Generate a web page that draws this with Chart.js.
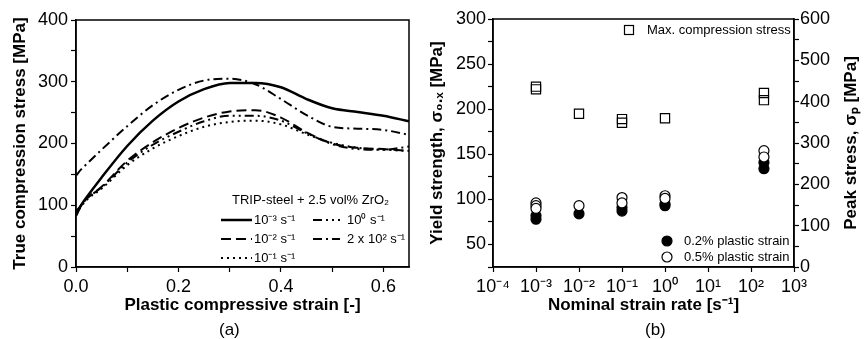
<!DOCTYPE html>
<html>
<head>
<meta charset="utf-8">
<script src="https://cdn.jsdelivr.net/npm/chart.js@4.4.0/dist/chart.umd.min.js"></script>
<style>
  html, body { margin: 0; padding: 0; background: #fff; }
  body { width: 864px; height: 339px; position: relative; overflow: hidden;
         font-family: 'Liberation Sans', Arial, sans-serif; }
  #chartA { position: absolute; left: 0; top: 0; }
  #chartB { position: absolute; left: 420px; top: 0; }
  .cap { position: absolute; top: 320px; font-size: 17px; line-height: 20px; }
</style>
</head>
<body>
<canvas id="chartA" width="430" height="339"></canvas>
<canvas id="chartB" width="444" height="339"></canvas>
<div class="cap" style="left:219px">(a)</div>
<div class="cap" style="left:645px">(b)</div>
<script>
// (a) true stress vs plastic strain, one curve per strain rate
const strain    = [0, 0.01, 0.02, 0.05, 0.1, 0.15, 0.2, 0.25, 0.3, 0.35, 0.4, 0.45, 0.5, 0.55, 0.6, 0.65];
const stress1e3 = [83, 100, 112, 145, 196, 237, 268, 288, 298, 298, 291, 272, 257, 251, 245, 236];
const stress1e2 = [88, 100, 110, 130, 172, 202, 225, 242, 252, 254, 242, 218, 200, 193, 191, 188];
const stress1e1 = [85, 98, 108, 127, 165, 192, 212, 227, 235, 237, 231, 215, 201, 193, 190, 188];
const stress1e0 = [90, 100, 110, 129, 169, 198, 219, 236, 245, 245, 237, 217, 199, 191, 190, 195];
const stress2e2 = [148, 158, 166, 190, 228, 262, 287, 302, 305, 296, 272, 246, 227, 224, 222, 214];
const rateLabels = ['10⁻³ s⁻¹', '10⁻² s⁻¹', '10⁻¹ s⁻¹', '10⁰ s⁻¹', '2 x 10² s⁻¹'];

const strainTicks = [0, 0.1, 0.2, 0.3, 0.4, 0.5, 0.6];
const strainTickLabels = ['0.0', '', '0.2', '', '0.4', '', '0.6'];
const stressTicks = [0, 50, 100, 150, 200, 250, 300, 350, 400];
const stressTickLabels = ['0', '', '100', '', '200', '', '300', '', '400'];

// (b) yield strength / peak stress vs nominal strain rate
const maxRate   = [1e-3, 1e-3, 1e-2, 1e-1, 1e-1, 1, 200, 200];
const maxStress = [225, 222, 195, 189, 185, 190, 218, 210];
const y02Rate   = [1e-3, 1e-3, 1e-2, 1e-1, 1e-1, 1, 1, 200, 200];
const y02Stress = [78, 82, 84, 87, 91, 93, 95, 134, 141];
const y05Rate   = [1e-3, 1e-3, 1e-3, 1e-2, 1e-1, 1e-1, 1, 1, 200, 200];
const y05Stress = [96, 93, 90, 93, 102, 96, 104, 101, 154, 147];

const rateTicks = [1e-4, 1e-3, 1e-2, 1e-1, 1, 10, 100, 1000];
const rateTickLabels = ['10⁻⁴', '10⁻³', '10⁻²', '10⁻¹', '10⁰', '10¹', '10²', '10³'];
const yieldTicks = [25, 50, 75, 100, 125, 150, 175, 200, 225, 250, 275, 300];
const yieldTickLabels = ['', '50', '', '100', '', '150', '', '200', '', '250', '', '300'];
const peakTicks = [0, 50, 100, 150, 200, 250, 300, 350, 400, 450, 500, 550, 600];
const peakTickLabels = ['0', '', '100', '', '200', '', '300', '', '400', '', '500', '', '600'];

const FONT = "'Liberation Sans', Arial, sans-serif";
Chart.defaults.font.family = FONT;
Chart.defaults.color = '#000';

const tickFont = { size: 18 };
const titleFont = { size: 17, weight: 'bold' };
const gridOpts = { drawOnChartArea: false, color: '#000', tickLength: 5, tickWidth: 1.2 };
const borderOpts = { color: '#000', width: 1.5 };

const frame = {
  id: 'frame',
  afterDraw(chart) {
    const a = chart.chartArea, ctx = chart.ctx;
    ctx.save();
    ctx.strokeStyle = '#000';
    ctx.lineWidth = 1.5;
    ctx.strokeRect(a.left, a.top, a.right - a.left, a.bottom - a.top);
    ctx.restore();
  }
};

function pts(xs, ys) {
  return xs.map((x, i) => ({ x: x, y: ys[i] }));
}

// ---------- panel (a) ----------
const legendA = {
  id: 'legendA',
  afterDraw(chart) {
    const ctx = chart.ctx;
    ctx.save();
    ctx.font = '13px ' + FONT;
    ctx.fillStyle = '#000';
    ctx.strokeStyle = '#000';
    ctx.textBaseline = 'middle';
    ctx.fillText('TRIP-steel + 2.5 vol% ZrO₂', 232, 200);
    const slots = [[221, 252, 220, 254], [221, 252, 239, 254], [221, 252, 258, 254],
                   [313, 340, 220, 347], [313, 340, 239, 347]];
    chart.data.datasets.forEach((ds, i) => {
      const s = slots[i];
      ctx.beginPath();
      ctx.setLineDash(ds.borderDash || []);
      ctx.lineWidth = ds.borderWidth;
      ctx.moveTo(s[0], s[2]);
      ctx.lineTo(s[1], s[2]);
      ctx.stroke();
      ctx.setLineDash([]);
      ctx.fillText(ds.label, s[3], s[2]);
    });
    ctx.restore();
  }
};

function curve(label, ys, dash, width) {
  return {
    label: label,
    data: pts(strain, ys),
    borderColor: '#000',
    borderWidth: width,
    borderDash: dash,
    pointRadius: 0,
    fill: false,
    cubicInterpolationMode: 'monotone'
  };
}

new Chart(document.getElementById('chartA'), {
  type: 'line',
  data: {
    datasets: [
      curve(rateLabels[0], stress1e3, [], 2.5),
      curve(rateLabels[1], stress1e2, [10, 5], 2),
      curve(rateLabels[2], stress1e1, [2, 4], 2),
      curve(rateLabels[3], stress1e0, [9, 4, 2, 4, 2, 4], 2),
      curve(rateLabels[4], stress2e2, [9, 4, 2, 4], 2)
    ]
  },
  options: {
    responsive: false,
    animation: false,
    layout: { padding: { top: 20, right: 21, left: 0, bottom: 0 } },
    plugins: { legend: { display: false }, tooltip: { enabled: false } },
    scales: {
      x: {
        type: 'linear', min: 0, max: 0.65,
        afterBuildTicks: s => { s.ticks = strainTicks.map(v => ({ value: v })); },
        afterFit: s => { s.height = 72; },
        ticks: { font: tickFont, padding: 4, maxRotation: 0, autoSkip: false,
                 callback: (v, i) => strainTickLabels[i] },
        grid: gridOpts, border: borderOpts,
        title: { display: true, text: 'Plastic compressive strain [-]', font: titleFont,
                 padding: { top: 0, bottom: 23 } }
      },
      y: {
        min: 0, max: 400,
        afterBuildTicks: s => { s.ticks = stressTicks.map(v => ({ value: v })); },
        afterFit: s => { s.width = 76; },
        ticks: { font: tickFont, padding: 3, autoSkip: false,
                 callback: (v, i) => stressTickLabels[i] },
        grid: gridOpts, border: borderOpts,
        title: { display: true, text: 'True compression stress [MPa]', font: titleFont,
                 padding: { top: 10, bottom: 0 } }
      }
    }
  },
  plugins: [frame, legendA]
});

// ---------- panel (b) ----------
const legendB = {
  id: 'legendB',
  afterDraw(chart) {
    const ctx = chart.ctx;
    const ox = 420;
    const a = chart.chartArea;
    ctx.save();
    ctx.font = '13px ' + FONT;
    ctx.fillStyle = '#000';
    ctx.strokeStyle = '#000';
    ctx.lineWidth = 1.2;
    ctx.textBaseline = 'middle';
    ctx.strokeRect(629 - ox - 4.5, 30 - 4.5, 9, 9);
    ctx.fillText('Max. compression stress', 647 - ox, 30);
    ctx.beginPath();
    ctx.arc(667 - ox, 241, 5, 0, Math.PI * 2);
    ctx.fill();
    ctx.stroke();
    ctx.fillText('0.2% plastic strain', 684 - ox, 241);
    ctx.beginPath();
    ctx.arc(667 - ox, 257, 5, 0, Math.PI * 2);
    ctx.fillStyle = '#fff';
    ctx.fill();
    ctx.stroke();
    ctx.fillStyle = '#000';
    ctx.fillText('0.5% plastic strain', 684 - ox, 257);
    // right axis title reads bottom-to-top like the left one
    ctx.translate(851 - ox, (a.top + a.bottom) / 2);
    ctx.rotate(-Math.PI / 2);
    ctx.font = 'bold 17px ' + FONT;
    ctx.textAlign = 'center';
    ctx.fillText('Peak stress, σₚ [MPa]', 0, 0);
    ctx.restore();
  }
};

new Chart(document.getElementById('chartB'), {
  type: 'scatter',
  data: {
    datasets: [
      { label: '0.5% plastic strain', data: pts(y05Rate, y05Stress), pointStyle: 'circle',
        pointRadius: 5, backgroundColor: '#fff', borderColor: '#000', borderWidth: 1.2 },
      { label: '0.2% plastic strain', data: pts(y02Rate, y02Stress), pointStyle: 'circle',
        pointRadius: 5, backgroundColor: '#000', borderColor: '#000', borderWidth: 1.2 },
      { label: 'Max. compression stress', data: pts(maxRate, maxStress), pointStyle: 'rect',
        pointRadius: 6.5, backgroundColor: 'rgba(0,0,0,0)', borderColor: '#000', borderWidth: 1.2 }
    ]
  },
  options: {
    responsive: false,
    animation: false,
    layout: { padding: { top: 19, right: 0, left: 0, bottom: 0 } },
    plugins: { legend: { display: false }, tooltip: { enabled: false } },
    scales: {
      x: {
        type: 'logarithmic', min: 1e-4, max: 1e3,
        afterBuildTicks: s => { s.ticks = rateTicks.map(v => ({ value: v })); },
        afterFit: s => { s.height = 72; },
        ticks: { font: tickFont, padding: 4, maxRotation: 0, autoSkip: false,
                 callback: (v, i) => rateTickLabels[i] },
        grid: gridOpts, border: borderOpts,
        title: { display: true, text: 'Nominal strain rate [s⁻¹]', font: titleFont,
                 padding: { top: 0, bottom: 23 } }
      },
      y: {
        position: 'left', min: 25, max: 300,
        afterBuildTicks: s => { s.ticks = yieldTicks.map(v => ({ value: v })); },
        afterFit: s => { s.width = 73; },
        ticks: { font: tickFont, padding: 2, autoSkip: false,
                 callback: (v, i) => yieldTickLabels[i] },
        grid: gridOpts, border: borderOpts,
        title: { display: true, text: 'Yield strength, σ₀.ₓ [MPa]', font: titleFont,
                 padding: { top: 7, bottom: 0 } }
      },
      y2: {
        position: 'right', min: 0, max: 600,
        afterBuildTicks: s => { s.ticks = peakTicks.map(v => ({ value: v })); },
        afterFit: s => { s.width = 70; },
        ticks: { font: tickFont, padding: 1, autoSkip: false,
                 callback: (v, i) => peakTickLabels[i] },
        grid: gridOpts, border: borderOpts
      }
    }
  },
  plugins: [frame, legendB]
});
</script>
</body>
</html>
